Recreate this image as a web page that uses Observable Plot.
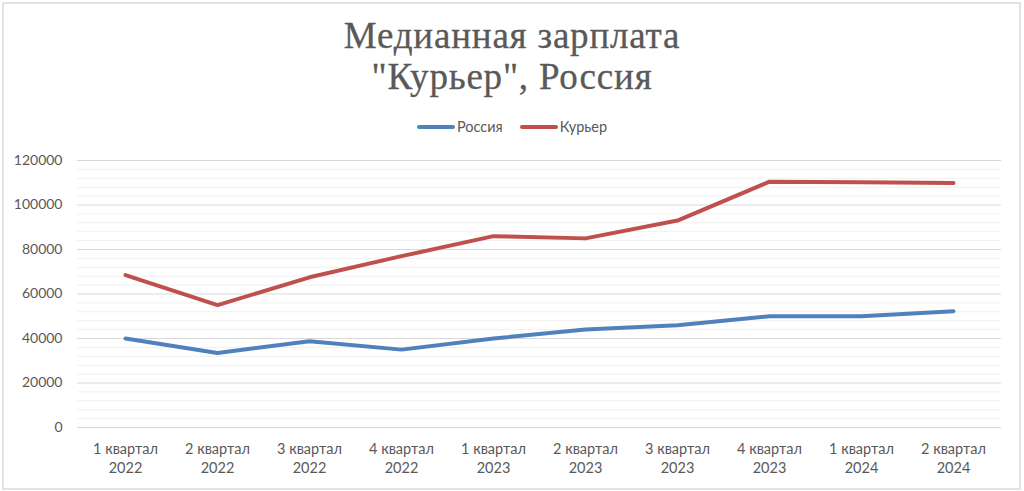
<!DOCTYPE html>
<html>
<head>
<meta charset="utf-8">
<script src="https://cdn.jsdelivr.net/npm/d3@7"></script>
<script src="https://cdn.jsdelivr.net/npm/@observablehq/plot@0.6"></script>
<style>
  html, body { margin: 0; padding: 0; background: #fff; }
  #frame { position: relative; width: 1024px; height: 491px; overflow: hidden; }
  #border { position: absolute; left: 2px; top: 2px; width: 1015px; height: 484px; border: 2px solid #e3e3e3; box-sizing: content-box; }
  #title { position: absolute; left: 0; top: 15px; width: 1024px; text-align: center; font-family: "Liberation Serif", serif; font-size: 37px; line-height: 41px; letter-spacing: 0.8px; color: #595959; -webkit-text-stroke: 0.3px #595959; }
  #legend { position: absolute; left: 0; top: 118px; width: 1024px; display: flex; justify-content: center; gap: 17px; font-family: Lato, sans-serif; font-size: 14.5px; color: #595959; }
  .item { display: flex; align-items: center; }
  .sw { display: inline-block; width: 38px; height: 4px; border-radius: 2px; margin-right: 2px; }
  #chart { position: absolute; left: 0; top: 140px; }
</style>
</head>
<body>
<div id="frame">
  <div id="border"></div>
  <div id="title">Медианная зарплата<br>"Курьер", Россия</div>
  <div id="legend"></div>
  <div id="chart"></div>
</div>
<script>
const quarters = ["1 квартал\n2022", "2 квартал\n2022", "3 квартал\n2022", "4 квартал\n2022", "1 квартал\n2023", "2 квартал\n2023", "3 квартал\n2023", "4 квартал\n2023", "1 квартал\n2024", "2 квартал\n2024"];
const russia = [40000, 33500, 38800, 35000, 40000, 44000, 46000, 50000, 50000, 52300];
const courier = [68500, 55000, 67500, 77000, 86000, 85000, 93000, 110500, 110200, 109900];
const seriesNames = ["Россия", "Курьер"];
const seriesColors = ["#4f81bd", "#c0504d"];
const majorTicks = [0, 20000, 40000, 60000, 80000, 100000, 120000];
const minorTicks = d3.range(0, 120001, 4000).filter(v => v % 20000 !== 0);

const data = [];
quarters.forEach((q, i) => {
  data.push({q, value: russia[i], series: seriesNames[0]});
  data.push({q, value: courier[i], series: seriesNames[1]});
});

const legend = document.getElementById("legend");
seriesNames.forEach((n, i) => {
  const it = document.createElement("div");
  it.className = "item";
  it.innerHTML = `<span class="sw" style="background:${seriesColors[i]}"></span><span>${n}</span>`;
  legend.appendChild(it);
});

const chart = Plot.plot({
  width: 1024,
  height: 345,
  marginLeft: 77,
  marginRight: 23,
  marginTop: 20,
  marginBottom: 58,
  style: {fontFamily: "Lato, sans-serif", fontSize: "14px", color: "#595959", background: "transparent"},
  x: {type: "point", domain: quarters, padding: 0.5},
  y: {domain: [0, 120000]},
  color: {domain: seriesNames, range: seriesColors},
  marks: [
    Plot.ruleY(minorTicks, {stroke: "#f0f0f0", strokeWidth: 1}),
    Plot.ruleY(majorTicks, {stroke: "#d9d9d9", strokeWidth: 1}),
    Plot.axisY({ticks: majorTicks, tickFormat: d => String(d), tickSize: 0, tickPadding: 15, label: null, fill: "#595959", fontSize: 14}),
    Plot.axisX({tickSize: 0, tickPadding: 13, label: null, fill: "#595959", fontSize: 14.5, lineHeight: 1.33}),
    Plot.line(data, {x: "q", y: "value", z: "series", stroke: "series", strokeWidth: 4, strokeLinecap: "round", strokeLinejoin: "round"})
  ]
});
document.getElementById("chart").appendChild(chart);
</script>
</body>
</html>
